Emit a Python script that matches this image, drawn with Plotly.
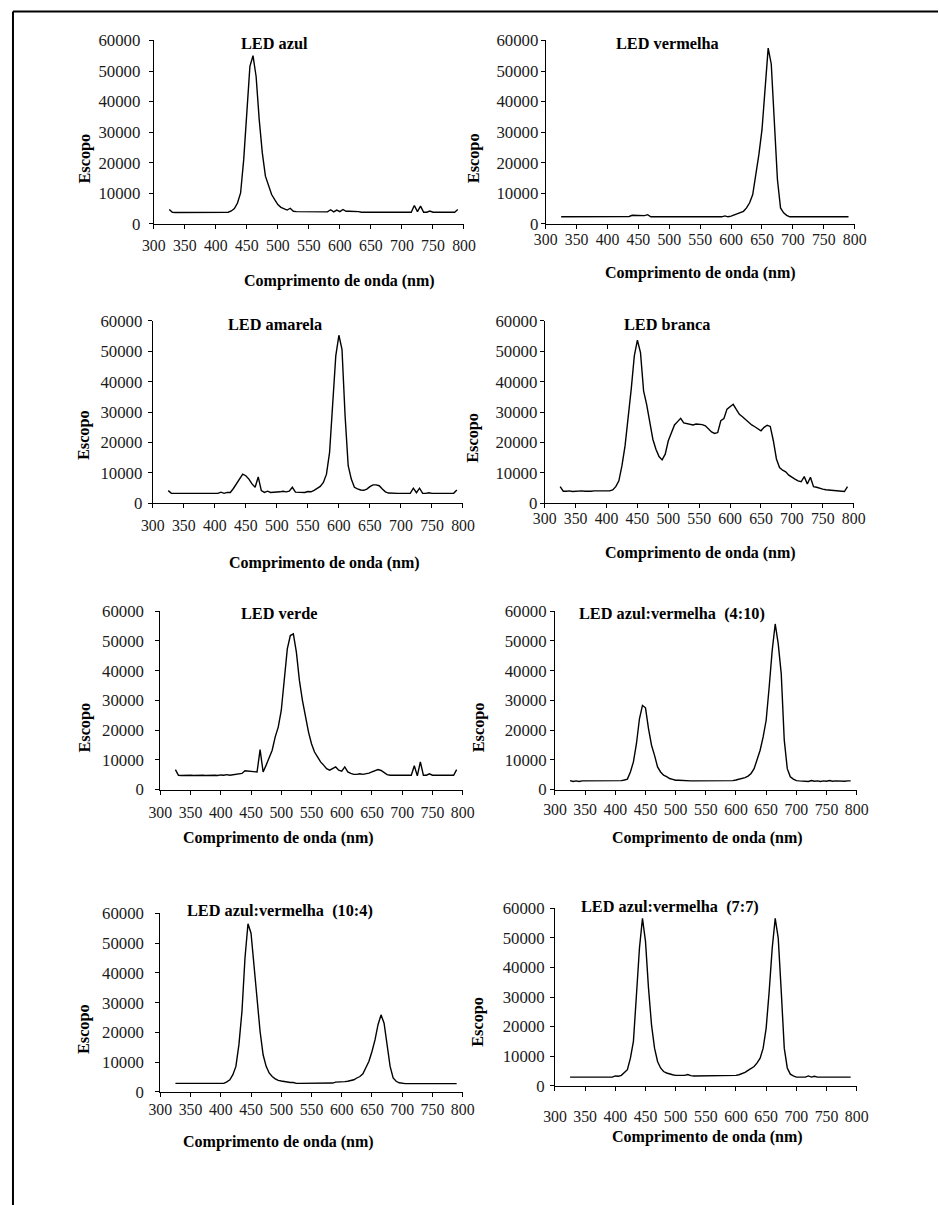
import plotly.graph_objects as go

# The captured picture maps figure pixels f to picture pixels p as
# p_x = 9.5 + 0.978 f_x and p_y = 7.5 + 0.986 f_y (measured), so the
# layout below is given in picture pixels and converted.
SX, OX = 0.978, 9.5
SY, OY = 0.986, 7.5
W, H = 950, 1215

# wavelength grid (nm)
wavelength = list(range(325, 795, 5))

led_azul = [
    4700, 3800, 3700, 3700, 3700, 3700, 3700, 3700, 3800, 3700,
    3700, 3700, 3700, 3700, 3800, 3700, 3700, 3900, 3800, 3800,
    4200, 5000, 6800, 10100, 21000, 36300, 51500, 55000, 48200, 34100,
    23200, 15600, 12800, 9600, 7900, 6300, 5400, 4900, 4500, 5100,
    4100, 4000, 4000, 4000, 3900, 4000, 3900, 4000, 3900, 4000,
    4000, 3900, 4600, 3900, 4500, 4000, 4700, 4100, 4100, 4100,
    4000, 4000, 3800, 3800, 3800, 3800, 3900, 3800, 3800, 3800,
    3800, 3800, 3800, 3800, 3800, 3800, 3900, 3800, 3800, 6000,
    4000, 5800, 3800, 3800, 4200, 3800, 3800, 3800, 3800, 4000,
    3800, 3800, 3800, 4700]

led_vermelha = [
    2300, 2300, 2300, 2300, 2300, 2300, 2300, 2300, 2300, 2300,
    2300, 2300, 2300, 2300, 2300, 2300, 2300, 2300, 2300, 2300,
    2300, 2300, 2400, 2800, 2800, 2800, 2700, 2700, 3000, 2300,
    2300, 2300, 2300, 2300, 2300, 2300, 2300, 2300, 2300, 2500,
    2300, 2300, 2300, 2300, 2300, 2300, 2300, 2300, 2300, 2300,
    2300, 2300, 2300, 2600, 2300, 2500, 2900, 3200, 3600, 4100,
    5200, 6900, 9600, 15600, 22700, 30800, 43900, 57500, 52300, 33000,
    14500, 5200, 3600, 2800, 2300, 2300, 2300, 2300, 2300, 2500,
    2300, 2300, 2300, 2300, 2300, 2300, 2300, 2300, 2300, 2300,
    2300, 2300, 2300, 2300]

led_amarela = [
    4200, 3300, 3300, 3300, 3300, 3300, 3300, 3300, 3300, 3300,
    3300, 3300, 3300, 3300, 3400, 3300, 3300, 3700, 3300, 3600,
    3600, 4900, 6400, 8000, 9600, 9100, 8000, 6400, 5300, 8700,
    4200, 3600, 4000, 3600, 3600, 3600, 3800, 4000, 3800, 4000,
    5300, 3700, 3600, 3600, 3600, 3900, 3800, 4300, 4900, 5600,
    6900, 9600, 16800, 31000, 48500, 55300, 50700, 28800, 12400, 8000,
    5300, 4800, 4400, 4300, 4700, 5500, 6100, 6100, 5800, 4700,
    3800, 3400, 3300, 3300, 3300, 3300, 3300, 3400, 3300, 5000,
    3500, 5000, 3300, 3300, 3500, 3300, 3300, 3300, 3300, 3300,
    3300, 3300, 3300, 4400]

led_branca = [
    5500, 4000, 4000, 4100, 3900, 4000, 4000, 4100, 4000, 3900,
    4000, 4100, 4000, 4100, 4100, 4100, 4100, 4400, 5500, 7400,
    12400, 18900, 27700, 37600, 48500, 53700, 49600, 37000, 32500, 26500,
    21100, 17800, 15400, 14300, 16200, 20600, 23300, 25800, 26900, 28000,
    26500, 26300, 26100, 25800, 26100, 26100, 25900, 25500, 24600, 23500,
    23000, 23300, 27200, 27900, 31000, 31900, 32600, 30900, 29300, 28500,
    27500, 26600, 25800, 25200, 24400, 23900, 25000, 25700, 25300, 20600,
    14600, 11800, 10900, 10400, 9300, 8500, 8000, 7400, 7100, 8800,
    6400, 8600, 5500, 5300, 4900, 4700, 4500, 4400, 4400, 4400,
    4200, 4200, 3900, 5500]

led_verde = [
    6700, 4800, 4700, 4800, 4700, 4800, 4700, 4800, 4700, 4800,
    4700, 4800, 4700, 4800, 4700, 4900, 4800, 5000, 4800, 4900,
    5000, 5100, 5400, 6300, 6200, 5900, 5800, 5900, 13400, 5900,
    8200, 10400, 13200, 17700, 21000, 26600, 37800, 47300, 51800, 52400,
    46200, 36700, 30000, 24400, 19400, 15400, 12600, 11000, 9300, 8200,
    7000, 6500, 7000, 7600, 6500, 6200, 7600, 5900, 5400, 5100,
    5100, 5300, 5100, 5200, 5500, 5900, 6400, 6700, 6400, 5600,
    5000, 4800, 4800, 4800, 4800, 4800, 4800, 4900, 4800, 8000,
    4600, 9300, 4800, 4800, 5300, 4800, 4800, 4800, 4800, 4900,
    4800, 4900, 4800, 6700]

led_az_verm_4_10 = [
    3000, 2700, 2900, 2700, 2900, 2900, 2900, 2900, 2900, 2900,
    2900, 2900, 2900, 2900, 2900, 2900, 2900, 3000, 3200, 3500,
    5900, 9300, 15400, 23800, 28300, 27500, 20500, 14900, 11500, 7600,
    5900, 4800, 4300, 3700, 3400, 3100, 3100, 3000, 3100, 3000,
    2900, 2900, 2900, 2900, 2900, 2900, 2900, 2900, 2900, 2900,
    2900, 2900, 2900, 3000, 3000, 3200, 3400, 3700, 4000, 4500,
    5400, 7000, 9800, 13200, 17700, 23300, 34500, 46800, 55700, 49000,
    38900, 16600, 7000, 4300, 3500, 3000, 2900, 2900, 2900, 2700,
    3000, 2800, 2900, 2700, 2900, 2800, 3000, 2800, 2900, 2800,
    2900, 2800, 2900, 2900]

led_az_verm_10_4 = [
    2900, 2900, 2900, 2900, 2900, 2900, 2900, 2900, 2900, 2900,
    2900, 2900, 2900, 2900, 2900, 2900, 2900, 3400, 4100, 5800,
    8600, 15900, 27000, 44900, 56500, 53300, 41600, 30400, 20300, 12500,
    8600, 6400, 5200, 4400, 3900, 3700, 3500, 3300, 3200, 3200,
    2900, 2900, 2900, 2900, 2900, 2900, 2900, 2900, 2900, 2900,
    2900, 2900, 3000, 3300, 3300, 3500, 3500, 3600, 3800, 4100,
    4700, 5200, 6100, 8000, 10300, 13600, 17500, 22600, 25900, 23100,
    15900, 8600, 4700, 3600, 3100, 2900, 2800, 2800, 2800, 3000,
    2800, 3000, 2800, 2800, 2800, 2800, 2800, 2800, 2800, 2800,
    2800, 2800, 2800, 2800]

led_az_verm_7_7 = [
    2900, 2900, 2900, 2900, 2900, 2900, 2900, 2900, 2900, 2900,
    2900, 2900, 2900, 2900, 2900, 3300, 3200, 3500, 4300, 5400,
    9300, 15000, 30700, 46500, 56600, 48800, 33000, 20600, 12700, 8200,
    6000, 4800, 4300, 3900, 3700, 3500, 3500, 3500, 3500, 3800,
    3400, 3300, 3300, 3300, 3300, 3300, 3300, 3300, 3300, 3300,
    3300, 3300, 3400, 3300, 3400, 3500, 3700, 4100, 4500, 5200,
    6000, 6500, 7700, 9300, 12700, 19500, 31900, 46500, 56600, 49900,
    31900, 12700, 6000, 3900, 3300, 2900, 2900, 2900, 2900, 3300,
    2900, 3200, 2900, 2900, 2900, 2900, 2900, 2900, 2900, 2900,
    2900, 2900, 2900, 2900]

titles = ["LED azul", "LED vermelha", "LED amarela", "LED branca", "LED verde",
          "LED azul:vermelha\u00a0 (4:10)", "LED azul:vermelha\u00a0 (10:4)",
          "LED azul:vermelha\u00a0 (7:7)"]
series = [led_azul, led_vermelha, led_amarela, led_branca, led_verde,
          led_az_verm_4_10, led_az_verm_10_4, led_az_verm_7_7]
x_title = "Comprimento de onda (nm)"
y_title = "Escopo"
y_ticks = [0, 10000, 20000, 30000, 40000, 50000, 60000]

# layout (picture pixels): axis box left, right, top(60000), bottom(0)
boxes = [
    (151.7, 463.0, 39.0, 222.7),
    (545.0, 855.0, 39.0, 222.7),
    (150.7, 462.0, 320.0, 502.7),
    (544.0, 854.0, 320.0, 502.7),
    (158.3, 461.7, 610.7, 789.3),
    (554.3, 857.0, 610.7, 789.3),
    (158.3, 461.7, 913.3, 1092.3),
    (554.3, 857.0, 908.3, 1086.0),
]
title_pos = [(273, 42), (667, 42), (273, 324), (667, 324), (277, 613),
             (672, 613), (278, 911), (670, 906)]
xt_pos = [(338, 280), (700, 272), (323, 562), (700, 552), (277, 838),
          (707, 838), (277, 1142), (707, 1137)]
yt_pos = [(82, 157), (472, 157), (82, 434), (472, 437), (82, 727),
          (477, 727), (82, 1029), (477, 1022)]
x_standoff = [3, -3, 4, -3, 5, 2, -1, 12]
y_standoff = [5, -1, 2, -1, 8, 0, 8, 2]


def px(x):
    return ((x - OX) / SX) / W


def py(y):
    return 1 - ((y - OY) / SY) / H


FONT = "Liberation Serif"
fig = go.Figure()
annotations = []
layout = {}
for i in range(8):
    n = "" if i == 0 else str(i + 1)
    l, r, t, b = boxes[i]
    fig.add_trace(go.Scatter(x=wavelength, y=series[i], mode="lines",
                             line=dict(color="black", width=1.4),
                             xaxis="x" + n, yaxis="y" + n, showlegend=False,
                             hoverinfo="skip"))
    layout["xaxis" + n] = dict(
        domain=[px(l), px(r)], anchor="y" + n, range=[300, 800],
        tick0=300, dtick=50, showgrid=False, zeroline=False,
        showline=True, linecolor="black", linewidth=1,
        ticks="outside", ticklen=4, tickwidth=1, tickcolor="black",
        ticklabelstandoff=x_standoff[i],
        tickfont=dict(family=FONT, size=15.8, color="#1a1a1a"))
    layout["yaxis" + n] = dict(
        domain=[py(b), py(t)], anchor="x" + n, range=[0, 60000],
        tickvals=y_ticks, tickformat="d", showgrid=False, zeroline=False,
        showline=True, linecolor="black", linewidth=1,
        ticks="outside", ticklen=4, tickwidth=1, tickcolor="black",
        ticklabelstandoff=y_standoff[i],
        tickfont=dict(family=FONT, size=16.8, color="#1a1a1a"))
    tx, ty = title_pos[i]
    annotations.append(dict(text="<b>%s</b>" % titles[i], x=px(tx), y=py(ty),
                            xref="paper", yref="paper", showarrow=False,
                            xanchor="center", yanchor="middle",
                            font=dict(family=FONT, size=16.3, color="black")))
    ax_, ay_ = xt_pos[i]
    annotations.append(dict(text="<b>%s</b>" % x_title, x=px(ax_), y=py(ay_),
                            xref="paper", yref="paper", showarrow=False,
                            xanchor="center", yanchor="middle",
                            font=dict(family=FONT, size=16, color="black")))
    bx, by = yt_pos[i]
    annotations.append(dict(text="<b>%s</b>" % y_title, x=px(bx), y=py(by),
                            xref="paper", yref="paper", showarrow=False,
                            textangle=-90, xanchor="center", yanchor="middle",
                            font=dict(family=FONT, size=16.3, color="black")))

frame_left = max(px(8.3), 1.0 / W)
shapes = [
    dict(type="line", xref="paper", yref="paper", x0=frame_left, x1=1.0,
         y0=py(10), y1=py(10), line=dict(color="black", width=2)),
    dict(type="line", xref="paper", yref="paper", x0=frame_left, x1=frame_left,
         y0=py(10), y1=0.0, line=dict(color="black", width=2)),
]

fig.update_layout(width=W, height=H, margin=dict(l=0, r=0, t=0, b=0),
                  paper_bgcolor="white", plot_bgcolor="white",
                  annotations=annotations, shapes=shapes, **layout)
fig.write_html("out.html")
